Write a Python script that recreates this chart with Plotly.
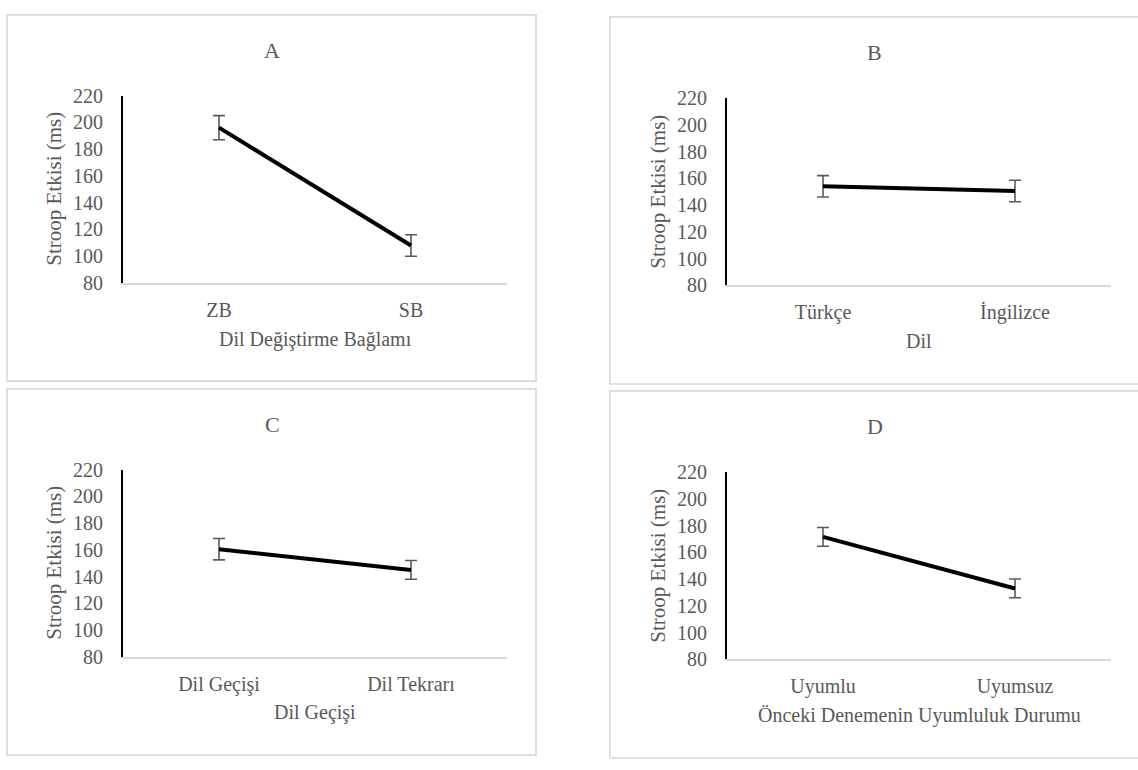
import plotly.graph_objects as go

W, H = 1138, 770

# ---- data ----
titles = ["A", "B", "C", "D"]
x_titles = ["Dil Değiştirme Bağlamı", "Dil", "Dil Geçişi", "Önceki Denemenin Uyumluluk Durumu"]
y_title = "Stroop Etkisi (ms)"

cats_a = ["ZB", "SB"]
vals_a = [196, 108]
err_a = [9, 8]

cats_b = ["Türkçe", "İngilizce"]
vals_b = [154, 150.5]
err_b = [8, 8]

cats_c = ["Dil Geçişi", "Dil Tekrarı"]
vals_c = [160.5, 145]
err_c = [8, 7]

cats_d = ["Uyumlu", "Uyumsuz"]
vals_d = [171.5, 133]
err_d = [7, 7]

y_ticks = [80, 100, 120, 140, 160, 180, 200, 220]

# ---- layout geometry (pixels) ----
panels = [
    dict(cats=cats_a, vals=vals_a, err=err_a, px=(123, 507), py=(87, 280),
         box=(7, 536, 4, 381), t=(272, 41), xt=(315, 338), yt=(54, 183)),
    dict(cats=cats_b, vals=vals_b, err=err_b, px=(727, 1111), py=(89.5, 282.5),
         box=(610, 1142, 6, 384), t=(875, 43), xt=(919, 340), yt=(658, 186)),
    dict(cats=cats_c, vals=vals_c, err=err_c, px=(123, 507), py=(472, 665),
         box=(7, 536, 389, 766), t=(272, 426), xt=(315, 722), yt=(54, 568)),
    dict(cats=cats_d, vals=vals_d, err=err_d, px=(727, 1111), py=(474.5, 667.5),
         box=(610, 1142, 391, 769), t=(875, 428), xt=(919, 725), yt=(658, 571)),
]

TXT = "#595959"
FONT = "Liberation Serif, Times New Roman, serif"

def fx(px):
    return px / W

def fy(py):
    return 1 - py / H

fig = go.Figure()
layout = dict(
    width=W, height=H, margin=dict(l=0, r=0, t=0, b=0),
    paper_bgcolor="white", plot_bgcolor="white", showlegend=False,
    font=dict(family=FONT, color=TXT, size=20),
)
shapes = []
annotations = []

for i, p in enumerate(panels):
    n = "" if i == 0 else str(i + 1)
    xa, ya = "x" + n, "y" + n
    fig.add_trace(go.Scatter(
        x=p["cats"], y=p["vals"], mode="markers", xaxis=xa, yaxis=ya,
        marker=dict(size=1, color="rgba(0,0,0,0)"),
        error_y=dict(type="data", array=p["err"], visible=True,
                     color=TXT, thickness=1.6, width=6),
        hoverinfo="skip"))
    fig.add_trace(go.Scatter(
        x=p["cats"], y=p["vals"], mode="lines", xaxis=xa, yaxis=ya,
        line=dict(color="black", width=4)))
    layout["xaxis" + n] = dict(
        domain=[fx(p["px"][0]), fx(p["px"][1])], anchor=ya,
        type="category", range=[-0.5, 1.5], showgrid=False, zeroline=False,
        showline=True, linecolor="#d9d9d9", linewidth=1.5, ticks="",
        tickfont=dict(family=FONT, color=TXT, size=20), ticklabelstandoff=8,
        fixedrange=True)
    layout["yaxis" + n] = dict(
        domain=[fy(p["py"][1]), fy(p["py"][0])], anchor=xa,
        range=[80, 220], tickvals=y_ticks, showgrid=False, zeroline=False,
        showline=True, linecolor="black", linewidth=2, ticks="",
        tickfont=dict(family=FONT, color=TXT, size=20), ticklabelstandoff=14,
        fixedrange=True)
    bx0, bx1, by0, by1 = p["box"]
    shapes.append(dict(type="rect", xref="paper", yref="paper",
                       x0=fx(bx0), x1=fx(bx1), y0=fy(by1), y1=fy(by0),
                       line=dict(color="#d9d9d9", width=1.6), layer="below"))
    annotations.append(dict(text=titles[i], x=fx(p["t"][0]), y=fy(p["t"][1]),
                            xref="paper", yref="paper", showarrow=False,
                            xanchor="center", yanchor="middle",
                            font=dict(family=FONT, color=TXT, size=22)))
    annotations.append(dict(text=x_titles[i], x=fx(p["xt"][0]), y=fy(p["xt"][1]),
                            xref="paper", yref="paper", showarrow=False,
                            xanchor="center", yanchor="middle",
                            font=dict(family=FONT, color=TXT, size=20)))
    annotations.append(dict(text=y_title, x=fx(p["yt"][0]), y=fy(p["yt"][1]),
                            xref="paper", yref="paper", showarrow=False,
                            xanchor="center", yanchor="middle", textangle=-90,
                            font=dict(family=FONT, color=TXT, size=21)))

layout["shapes"] = shapes
layout["annotations"] = annotations
fig.update_layout(**layout)
fig.write_html(
    "out.html",
    config={"displayModeBar": False},
    post_script="document.body.style.margin='0';document.body.style.padding='0';"
                "document.body.style.overflow='hidden';"
                "document.documentElement.style.overflow='hidden';",
)
